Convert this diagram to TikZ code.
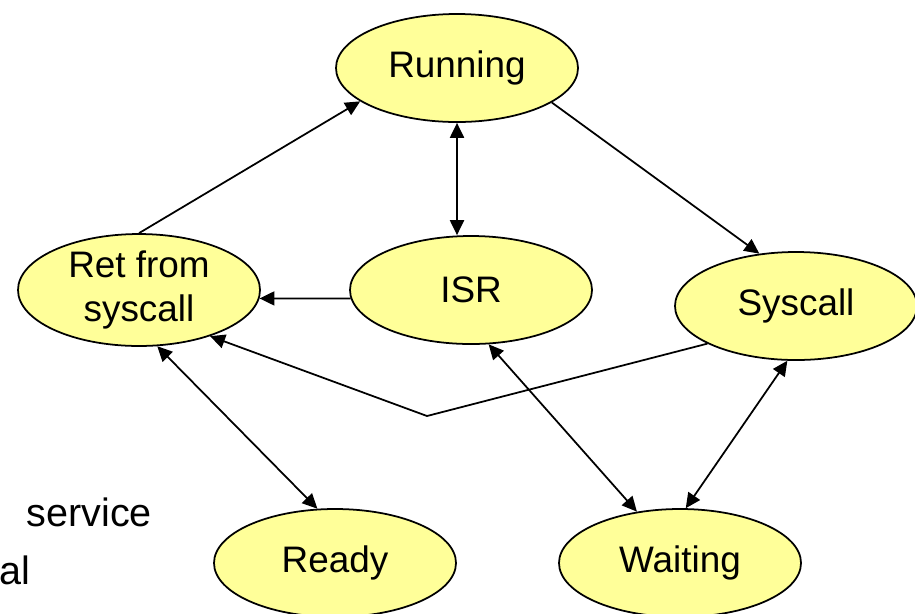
\documentclass[tikz,border=0pt]{standalone}
\usepackage{fontspec}
\setmainfont{Liberation Sans}
\usepackage{tikz}
\usetikzlibrary{shapes.geometric,arrows.meta}

\definecolor{procfill}{HTML}{FFFF99}
\tikzset{
	proc/.style={draw, ellipse, fill=procfill, line width=1pt, inner sep=0pt,
		minimum width=242\unitpx, minimum height=108\unitpx, align=center,
		font=\fontsize{21}{25.5}\selectfont},
	link/.style={line width=1pt, -{Triangle[length=8.5pt, width=8pt]}},
	dlink/.style={line width=1pt, {Triangle[length=8.5pt, width=8pt]}-{Triangle[length=8.5pt, width=8pt]}}
}
\newlength{\unitpx}
\setlength{\unitpx}{0.02cm}

\begin{document}
\begin{tikzpicture}[x=0.02cm, y=-0.02cm]
			\useasboundingbox (0,0) rectangle (915,613);

			\node[proc] (run) at (457,68) {Running};
			\node[proc] (ret) at (139,290) {Ret from\\syscall};
			\node[proc] (isr) at (471,290) {ISR};
			\node[proc] (sys) at (796,306) {Syscall};
			\node[proc] (rdy) at (335,563) {Ready};
			\node[proc] (wait) at (680,563) {Waiting};

			\node[anchor=east, font=\fontsize{22.5}{27}\selectfont] (srv) at (158,512) {service};
			\node[anchor=west, inner sep=0pt, font=\fontsize{22.5}{27}\selectfont] (al) at (-1,570) {al};

			\coordinate (bend) at (427,416);

			\draw[link] (ret.north) to (run.199);
			\draw[dlink] (run.south) to (run.south |- isr.north);
			\draw[link] (run.340) to (sys.125);
			\draw[link] (isr.184) to (ret.356);
			\draw[link] (sys.203) -- (bend) -- (ret.327);
			\draw[dlink] (ret.288) to (rdy.108);
			\draw[dlink] (isr.288) to (wait.130);
			\draw[dlink] (sys.261) to (wait.84);
		\end{tikzpicture}
\end{document}
